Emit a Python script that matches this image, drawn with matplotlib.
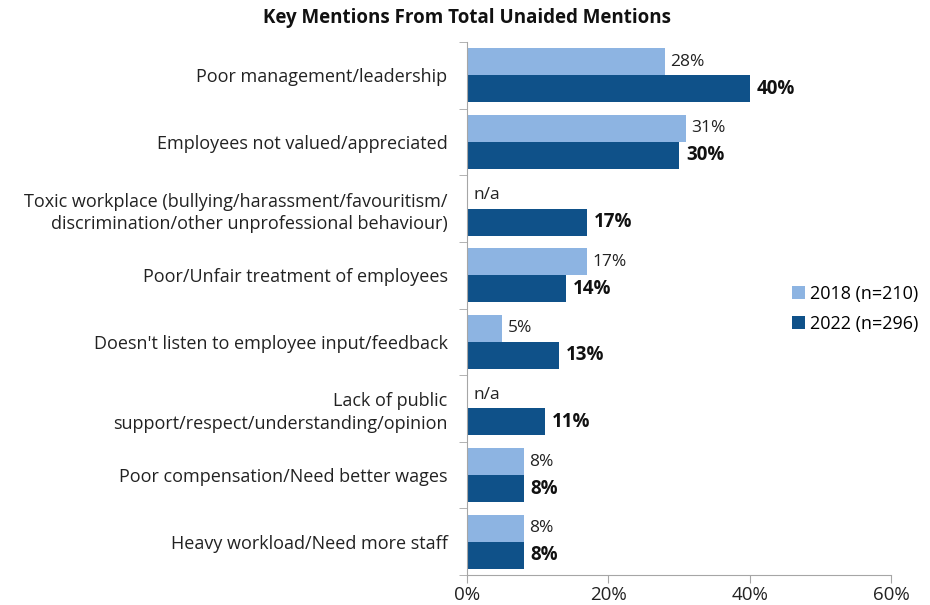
import matplotlib.pyplot as plt
import numpy as np

plt.rcParams['font.family'] = ['Open Sans', 'DejaVu Sans']

categories = [
    "Poor management/leadership",
    "Employees not valued/appreciated",
    "Toxic workplace (bullying/harassment/favouritism/\ndiscrimination/other unprofessional behaviour)",
    "Poor/Unfair treatment of employees",
    "Doesn't listen to employee input/feedback",
    "Lack of public\nsupport/respect/understanding/opinion",
    "Poor compensation/Need better wages",
    "Heavy workload/Need more staff",
]
values_2018 = [28, 31, None, 17, 5, None, 8, 8]
values_2022 = [40, 30, 17, 14, 13, 11, 8, 8]
series_names = ["2018 (n=210)", "2022 (n=296)"]
x_ticks = [0, 20, 40, 60]

light = "#8DB4E2"
dark = "#0F5189"
axis_grey = "#A6A6A6"

fig = plt.figure(figsize=(9.3, 6.05), dpi=100)
ax = fig.add_axes([467 / 930, 1 - 575 / 605, (891 - 467) / 930, (575 - 42) / 605])

n = len(categories)
pos = np.arange(n)
h = 0.405

vals18 = [v if v is not None else 0 for v in values_2018]
ax.barh(pos - h / 2, vals18, height=h, color=light, label=series_names[0])
ax.barh(pos + h / 2, values_2022, height=h, color=dark, label=series_names[1])

for i, (a, b) in enumerate(zip(values_2018, values_2022)):
    if a is None:
        ax.annotate("n/a", (0, i - h / 2), xytext=(5, 0), textcoords="offset points",
                    va="center", ha="left", fontsize=12.5, color="#222222")
    else:
        ax.annotate(f"{a}%", (a, i - h / 2), xytext=(4, 0), textcoords="offset points",
                    va="center", ha="left", fontsize=12.5, color="#222222")
    ax.annotate(f"{b}%", (b, i + h / 2), xytext=(5, 0), textcoords="offset points",
                va="center", ha="left", fontsize=13.5, fontweight="bold", color="#111111")

ax.set_xlim(0, 60)
ax.set_ylim(n - 0.5, -0.5)
ax.set_xticks(x_ticks)
ax.set_xticklabels([f"{t}%" for t in x_ticks], fontsize=13.5, color="#222222")
ax.tick_params(axis="x", length=6, color=axis_grey, pad=2, direction="out")

# category labels centred, tick marks on the boundaries
ax.set_yticks(pos)
ax.set_yticklabels(categories, fontsize=13, color="#222222", ha="right", linespacing=1.35)
ax.tick_params(axis="y", length=0, pad=14)
ax.set_yticks(np.arange(n + 1) - 0.5, minor=True)
ax.tick_params(axis="y", which="minor", length=6, color=axis_grey)

for side in ["top", "right"]:
    ax.spines[side].set_visible(False)
for side in ["left", "bottom"]:
    ax.spines[side].set_color(axis_grey)

fig.text(467 / 930, 1 - 18 / 605, "Key Mentions From Total Unaided Mentions",
         ha="center", va="center", fontsize=13.5, fontweight="bold", color="#111111")

handles, labels = ax.get_legend_handles_labels()
fig.legend(handles, labels, loc="center left", bbox_to_anchor=(776 / 930, 1 - 309 / 605),
           frameon=False, fontsize=13, handlelength=0.7, handleheight=0.7,
           handletextpad=0.3, labelspacing=0.65)

fig.savefig("out.png", dpi=100, facecolor="white")
